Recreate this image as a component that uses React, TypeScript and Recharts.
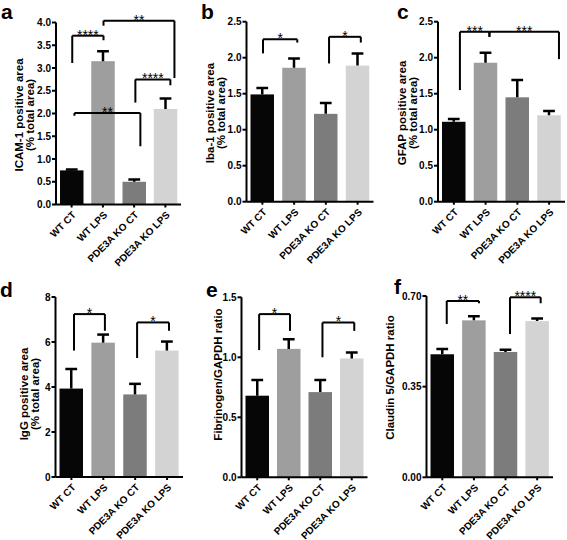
import React from 'react';
import { BarChart, Bar, XAxis, YAxis, ReferenceLine, ReferenceDot, Cell } from 'recharts';

const categories = ['WT CT', 'WT LPS', 'PDE3A KO CT', 'PDE3A KO LPS'];
const barColors = ['#060606', '#9e9e9e', '#7c7c7c', '#d3d3d3'];

// a: ICAM-1
const icamMean = [0.75, 3.15, 0.5, 2.1];
const icamErr = [0.02, 0.22, 0.05, 0.23];
const icamTicks = [0, 0.5, 1, 1.5, 2, 2.5, 3, 3.5, 4];
const icamBrackets = [
  { x1: 0.02, x2: 1.02, y: 3.71, y1: 3.11, y2: 3.61, label: '****' },
  { x1: 1.02, x2: 3.29, y: 4.04, y1: 3.93, y2: 2.78, label: '**' },
  { x1: 2.04, x2: 3.16, y: 2.75, y1: 2.24, y2: 2.62, label: '****' },
  { x1: 0.09, x2: 2.2, y: 2.01, y1: 1.95, y2: 1.28, label: '**' },
];

// b: Iba-1
const ibaMean = [1.49, 1.86, 1.22, 1.89];
const ibaErr = [0.09, 0.13, 0.15, 0.17];
const ibaTicks = [0, 0.5, 1, 1.5, 2, 2.5];
const ibaBrackets = [
  { x1: 0.02, x2: 1.1, y: 2.255, y1: 2.06, y2: 2.21, label: '*' },
  { x1: 2.1, x2: 3.1, y: 2.29, y1: 1.92, y2: 2.21, label: '*' },
];

// c: GFAP
const gfapMean = [1.11, 1.93, 1.45, 1.2];
const gfapErr = [0.04, 0.14, 0.24, 0.06];
const gfapTicks = [0, 0.5, 1, 1.5, 2, 2.5];
const gfapBrackets = [
  { x1: 0.19, x2: 1.12, y: 2.36, y1: 1.55, y2: 2.29, label: '***' },
  { x1: 1.12, x2: 3.31, y: 2.36, y1: 2.29, y2: 1.98, label: '***' },
];

// d: IgG
const iggMean = [3.93, 5.97, 3.67, 5.62];
const iggErr = [0.87, 0.36, 0.47, 0.4];
const iggTicks = [0, 2, 4, 6, 8];
const iggBrackets = [
  { x1: 0.08, x2: 1.05, y: 7.24, y1: 5.62, y2: 6.5, label: '*' },
  { x1: 2.06, x2: 3.06, y: 6.87, y1: 5.29, y2: 6.5, label: '*' },
];

// e: Fibrinogen
const fibMean = [0.68, 1.07, 0.71, 0.99];
const fibErr = [0.13, 0.08, 0.1, 0.05];
const fibTicks = [0, 0.5, 1, 1.5];
const fibBrackets = [
  { x1: 0.06, x2: 1.04, y: 1.36, y1: 1.06, y2: 1.22, label: '*' },
  { x1: 2.07, x2: 3.08, y: 1.29, y1: 1.0, y2: 1.22, label: '*' },
];

// f: Claudin 5
const claMean = [0.475, 0.606, 0.484, 0.603];
const claErr = [0.02, 0.016, 0.008, 0.01];
const claTicks = [0, 0.35, 0.7];
const claBrackets = [
  { x1: 0.14, x2: 1.16, y: 0.681, y1: 0.592, y2: 0.672, label: '**' },
  { x1: 2.14, x2: 3.11, y: 0.695, y1: 0.553, y2: 0.672, label: '****' },
];

const FONT = '"Liberation Sans", Arial, Helvetica, sans-serif';

type Bracket = { x1: number; x2: number; y: number; y1: number; y2: number; label: string };

const ErrShape = (props: any) => {
  const { x, y, width, height, fill, payload } = props;
  const k = payload.mean ? height / payload.mean : 0;
  const yTop = y - payload.err * k;
  const cx = x + width / 2;
  const capW = width * 0.5;
  return (
    <g>
      <rect x={x} y={y} width={width} height={height} fill={fill} />
      <line x1={cx} y1={y} x2={cx} y2={yTop} stroke="#000" strokeWidth={2.5} />
      <line x1={cx - capW / 2} y1={yTop} x2={cx + capW / 2} y2={yTop} stroke="#000" strokeWidth={2.5} />
    </g>
  );
};

const XTick = (props: any) => {
  const { x, y, payload } = props;
  return (
    <g transform={`translate(${x + 5},${y + 6})`}>
      <text x={0} y={0} transform="rotate(-45)" textAnchor="end" fontSize={10} fontWeight="bold" fill="#000" fontFamily={FONT}>
        {payload.value}
      </text>
    </g>
  );
};

type PanelProps = {
  letter: string;
  mean: number[];
  err: number[];
  ticks: number[];
  decimals: number;
  brackets: Bracket[];
  title: string[];
  box: { left: number; top: number; width: number; height: number };
  plot: { left: number; right: number; top: number; bottom: number };
  letterPos: { left: number; top: number };
  titlePos: { cx: number; cy: number };
};

const Panel = (p: PanelProps) => {
  const rows = categories.map((name, i) => ({ name, idx: i, mean: p.mean[i], err: p.err[i] }));
  const yW = 30;
  const xH = 40;
  const margin = {
    top: p.plot.top - p.box.top,
    left: p.plot.left - p.box.left - yW,
    right: p.box.left + p.box.width - p.plot.right,
    bottom: p.box.top + p.box.height - p.plot.bottom - xH,
  };
  const maxTick = p.ticks[p.ticks.length - 1];
  const lh = 11;
  const boxH = lh * p.title.length;
  return (
    <>
      <div style={{ position: 'absolute', left: p.letterPos.left, top: p.letterPos.top, fontSize: 21, lineHeight: 'normal', fontWeight: 'bold', fontFamily: FONT, color: '#000' }}>
        {p.letter}
      </div>
      <div
        style={{
          position: 'absolute',
          left: p.titlePos.cx - 100,
          top: p.titlePos.cy - boxH / 2,
          width: 200,
          height: boxH,
          transform: 'rotate(-90deg)',
          textAlign: 'center',
          fontSize: 11.5,
          lineHeight: lh + 'px',
          fontWeight: 'bold',
          fontFamily: FONT,
          color: '#000',
          whiteSpace: 'nowrap',
        }}
      >
        {p.title.map((t, i) => (
          <div key={i}>{t}</div>
        ))}
      </div>
      <div style={{ position: 'absolute', left: p.box.left, top: p.box.top }}>
        <BarChart width={p.box.width} height={p.box.height} data={rows} margin={margin} barSize={23.5}>
          <XAxis
            dataKey="name"
            type="category"
            height={xH}
            interval={0}
            tick={<XTick />}
            tickSize={3}
            tickLine={{ stroke: '#000', strokeWidth: 2 }}
            axisLine={{ stroke: '#000', strokeWidth: 2 }}
          />
          <XAxis xAxisId="n" dataKey="idx" type="number" domain={[-0.5, 3.5]} allowDataOverflow hide />
          <YAxis
            width={yW}
            domain={[0, maxTick]}
            ticks={p.ticks}
            interval={0}
            allowDataOverflow
            tickFormatter={(v: number) => v.toFixed(p.decimals)}
            tick={{ fontSize: 10, fontWeight: 'bold', fill: '#000', fontFamily: FONT }}
            tickSize={4}
            tickMargin={1}
            tickLine={{ stroke: '#000', strokeWidth: 2 }}
            axisLine={{ stroke: '#000', strokeWidth: 2 }}
          />
          <Bar dataKey="mean" isAnimationActive={false} shape={<ErrShape />}>
            {categories.map((c, i) => (
              <Cell key={c} fill={barColors[i]} />
            ))}
          </Bar>
          {p.brackets.map((b, i) => (
            <ReferenceLine
              key={'h' + i}
              xAxisId="n"
              segment={[{ x: b.x1, y: b.y }, { x: b.x2, y: b.y }]}
              stroke="#000"
              strokeWidth={2}
              ifOverflow="visible"
            />
          ))}
          {p.brackets.map((b, i) => (
            <ReferenceLine
              key={'l' + i}
              xAxisId="n"
              segment={[{ x: b.x1, y: b.y }, { x: b.x1, y: b.y1 }]}
              stroke="#000"
              strokeWidth={2}
              ifOverflow="visible"
            />
          ))}
          {p.brackets.map((b, i) => (
            <ReferenceLine
              key={'r' + i}
              xAxisId="n"
              segment={[{ x: b.x2, y: b.y }, { x: b.x2, y: b.y2 }]}
              stroke="#000"
              strokeWidth={2}
              ifOverflow="visible"
            />
          ))}
          {p.brackets.map((b, i) => (
            <ReferenceDot
              key={'s' + i}
              xAxisId="n"
              x={(b.x1 + b.x2) / 2}
              y={b.y}
              r={0.01}
              fill="none"
              stroke="none"
              ifOverflow="visible"
              label={{ value: b.label, position: 'top', offset: -4, fontSize: 14, fill: '#000', fontFamily: FONT }}
            />
          ))}
        </BarChart>
      </div>
    </>
  );
}

export default function App() {
  return (
    <div style={{ position: 'absolute', left: 0, top: 0, width: 567, height: 540, background: '#fff', overflow: 'hidden', fontFamily: FONT }}>
      <Panel
        letter="a"
        mean={icamMean}
        err={icamErr}
        ticks={icamTicks}
        decimals={1}
        brackets={icamBrackets}
        title={['ICAM-1 positive area', '(% total area)']}
        box={{ left: 0, top: 0, width: 189, height: 270 }}
        plot={{ left: 56, right: 181, top: 22.5, bottom: 204.5 }}
        letterPos={{ left: 1, top: 0 }}
        titlePos={{ cx: 25, cy: 115 }}
      />
      <Panel
        letter="b"
        mean={ibaMean}
        err={ibaErr}
        ticks={ibaTicks}
        decimals={1}
        brackets={ibaBrackets}
        title={['Iba-1 positive area', '(% total area)']}
        box={{ left: 189, top: 0, width: 189, height: 270 }}
        plot={{ left: 246.5, right: 373.5, top: 21.7, bottom: 201.7 }}
        letterPos={{ left: 201, top: 0 }}
        titlePos={{ cx: 216, cy: 113 }}
      />
      <Panel
        letter="c"
        mean={gfapMean}
        err={gfapErr}
        ticks={gfapTicks}
        decimals={1}
        brackets={gfapBrackets}
        title={['GFAP positive area', '(% total area)']}
        box={{ left: 378, top: 0, width: 189, height: 270 }}
        plot={{ left: 438, right: 565, top: 21.7, bottom: 201.7 }}
        letterPos={{ left: 397, top: 0 }}
        titlePos={{ cx: 407.5, cy: 113 }}
      />
      <Panel
        letter="d"
        mean={iggMean}
        err={iggErr}
        ticks={iggTicks}
        decimals={0}
        brackets={iggBrackets}
        title={['IgG positive area', '(% total area)']}
        box={{ left: 0, top: 270, width: 189, height: 270 }}
        plot={{ left: 55.5, right: 183, top: 297, bottom: 477 }}
        letterPos={{ left: 0, top: 277.5 }}
        titlePos={{ cx: 30, cy: 394 }}
      />
      <Panel
        letter="e"
        mean={fibMean}
        err={fibErr}
        ticks={fibTicks}
        decimals={1}
        brackets={fibBrackets}
        title={['Fibrinogen/GAPDH ratio']}
        box={{ left: 189, top: 270, width: 189, height: 270 }}
        plot={{ left: 241.5, right: 367.5, top: 297.3, bottom: 477.3 }}
        letterPos={{ left: 206, top: 277.5 }}
        titlePos={{ cx: 218, cy: 374 }}
      />
      <Panel
        letter="f"
        mean={claMean}
        err={claErr}
        ticks={claTicks}
        decimals={2}
        brackets={claBrackets}
        title={['Claudin 5/GAPDH ratio']}
        box={{ left: 378, top: 270, width: 189, height: 270 }}
        plot={{ left: 426.5, right: 553, top: 296, bottom: 477.3 }}
        letterPos={{ left: 394, top: 275 }}
        titlePos={{ cx: 390, cy: 377 }}
      />
    </div>
  );
}
